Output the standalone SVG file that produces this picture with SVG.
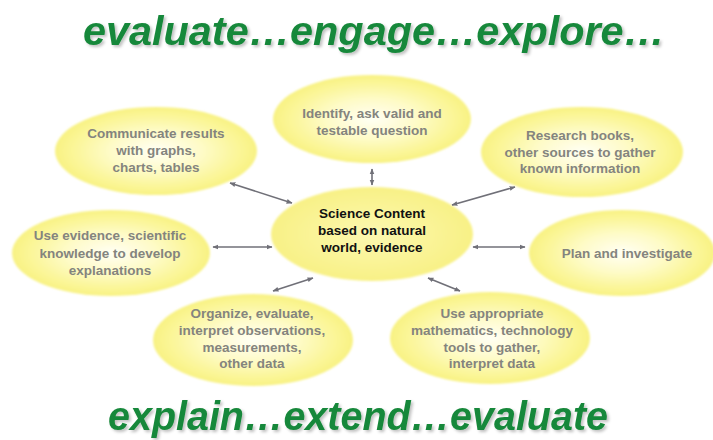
<svg xmlns="http://www.w3.org/2000/svg" width="713" height="440" viewBox="0 0 713 440">
  <defs>
    <radialGradient id="glow" cx="50%" cy="50%" r="50%">
      <stop offset="0" stop-color="#fffff4"/>
      <stop offset="0.45" stop-color="#fefbc8"/>
      <stop offset="0.8" stop-color="#fbf69a"/>
      <stop offset="1" stop-color="#f8f283"/>
    </radialGradient>
    <radialGradient id="core" cx="50%" cy="50%" r="50%">
      <stop offset="0" stop-color="#fcf8b0"/>
      <stop offset="1" stop-color="#f8f186"/>
    </radialGradient>
    <filter id="soft" x="-10%" y="-10%" width="120%" height="120%">
      <feGaussianBlur stdDeviation="1.2"/>
    </filter>
    <filter id="shadow" x="-5%" y="-20%" width="110%" height="150%">
      <feGaussianBlur in="SourceAlpha" stdDeviation="1.5"/>
      <feOffset dx="2" dy="2" result="b"/>
      <feFlood flood-color="#000" flood-opacity="0.25"/>
      <feComposite in2="b" operator="in"/>
      <feMerge><feMergeNode/><feMergeNode in="SourceGraphic"/></feMerge>
    </filter>
    <marker id="tip" viewBox="0 0 10 10" refX="9" refY="5" markerWidth="6" markerHeight="6" orient="auto-start-reverse" markerUnits="userSpaceOnUse">
      <path d="M0,1 L10,5 L0,9 z" fill="#707078"/>
    </marker>
  </defs>
  <style>
    .title { font-family: "Liberation Sans", Arial, sans-serif; font-weight: bold; font-style: italic; font-size: 40px; fill: #17883a; text-anchor: middle; }
    .bubble { fill: url(#glow); filter: url(#soft); }
    .hub { fill: url(#core); filter: url(#soft); }
    .lbl { font-family: "Liberation Sans", Arial, sans-serif; font-weight: bold; font-size: 13.5px; fill: #84847e; text-anchor: middle; }
    .hublbl { font-family: "Liberation Sans", Arial, sans-serif; font-weight: bold; font-size: 13.5px; fill: #111; text-anchor: middle; }
    .link { stroke: #707078; stroke-width: 1.6; fill: none; marker-start: url(#tip); marker-end: url(#tip); }
  </style>

  <rect width="713" height="440" fill="#ffffff"/>

  <text class="title" x="374" y="45" textLength="582" lengthAdjust="spacingAndGlyphs" filter="url(#shadow)">evaluate…engage…explore…</text>

  <g id="node-identify">
    <ellipse class="bubble" cx="372" cy="119" rx="99" ry="44"/>
    <text class="lbl" x="372" y="118">Identify, ask valid and</text>
    <text class="lbl" x="372" y="135">testable question</text>
  </g>

  <g id="node-communicate">
    <ellipse class="bubble" cx="156" cy="151" rx="101" ry="44"/>
    <text class="lbl" x="156" y="138">Communicate results</text>
    <text class="lbl" x="156" y="155">with graphs,</text>
    <text class="lbl" x="156" y="172">charts, tables</text>
  </g>

  <g id="node-research">
    <ellipse class="bubble" cx="582" cy="152" rx="101" ry="45"/>
    <text class="lbl" x="580" y="140">Research books,</text>
    <text class="lbl" x="580" y="157">other sources to gather</text>
    <text class="lbl" x="580" y="173">known information</text>
  </g>

  <g id="node-evidence">
    <ellipse class="bubble" cx="111" cy="253" rx="99" ry="43"/>
    <text class="lbl" x="110" y="240">Use evidence, scientific</text>
    <text class="lbl" x="110" y="258">knowledge to develop</text>
    <text class="lbl" x="110" y="275">explanations</text>
  </g>

  <g id="node-plan">
    <ellipse class="bubble" cx="622" cy="253" rx="93" ry="43"/>
    <text class="lbl" x="627" y="258">Plan and investigate</text>
  </g>

  <g id="node-organize">
    <ellipse class="bubble" cx="253" cy="340" rx="100" ry="46"/>
    <text class="lbl" x="252" y="318">Organize, evaluate,</text>
    <text class="lbl" x="252" y="335">interpret observations,</text>
    <text class="lbl" x="252" y="352">measurements,</text>
    <text class="lbl" x="252" y="368">other data</text>
  </g>

  <g id="node-math">
    <ellipse class="bubble" cx="490" cy="338" rx="100" ry="46"/>
    <text class="lbl" x="492" y="318">Use appropriate</text>
    <text class="lbl" x="492" y="335">mathematics, technology</text>
    <text class="lbl" x="492" y="352">tools to gather,</text>
    <text class="lbl" x="492" y="368">interpret data</text>
  </g>

  <g id="node-science">
    <ellipse class="hub" cx="372" cy="234" rx="101" ry="47"/>
    <text class="hublbl" x="372" y="218">Science Content</text>
    <text class="hublbl" x="372" y="235">based on natural</text>
    <text class="hublbl" x="372" y="252">world, evidence</text>
  </g>

  <g id="connectors">
    <line class="link" x1="372" y1="169" x2="372" y2="185"/>
    <line class="link" x1="230" y1="183" x2="292" y2="203"/>
    <line class="link" x1="452" y1="205" x2="515" y2="187"/>
    <line class="link" x1="213" y1="247" x2="272" y2="247"/>
    <line class="link" x1="473" y1="247" x2="525" y2="247"/>
    <line class="link" x1="273" y1="291" x2="313" y2="278"/>
    <line class="link" x1="428" y1="278" x2="460" y2="291"/>
  </g>

  <text class="title" x="358" y="430" textLength="500" lengthAdjust="spacingAndGlyphs" filter="url(#shadow)">explain…extend…evaluate</text>
</svg>
